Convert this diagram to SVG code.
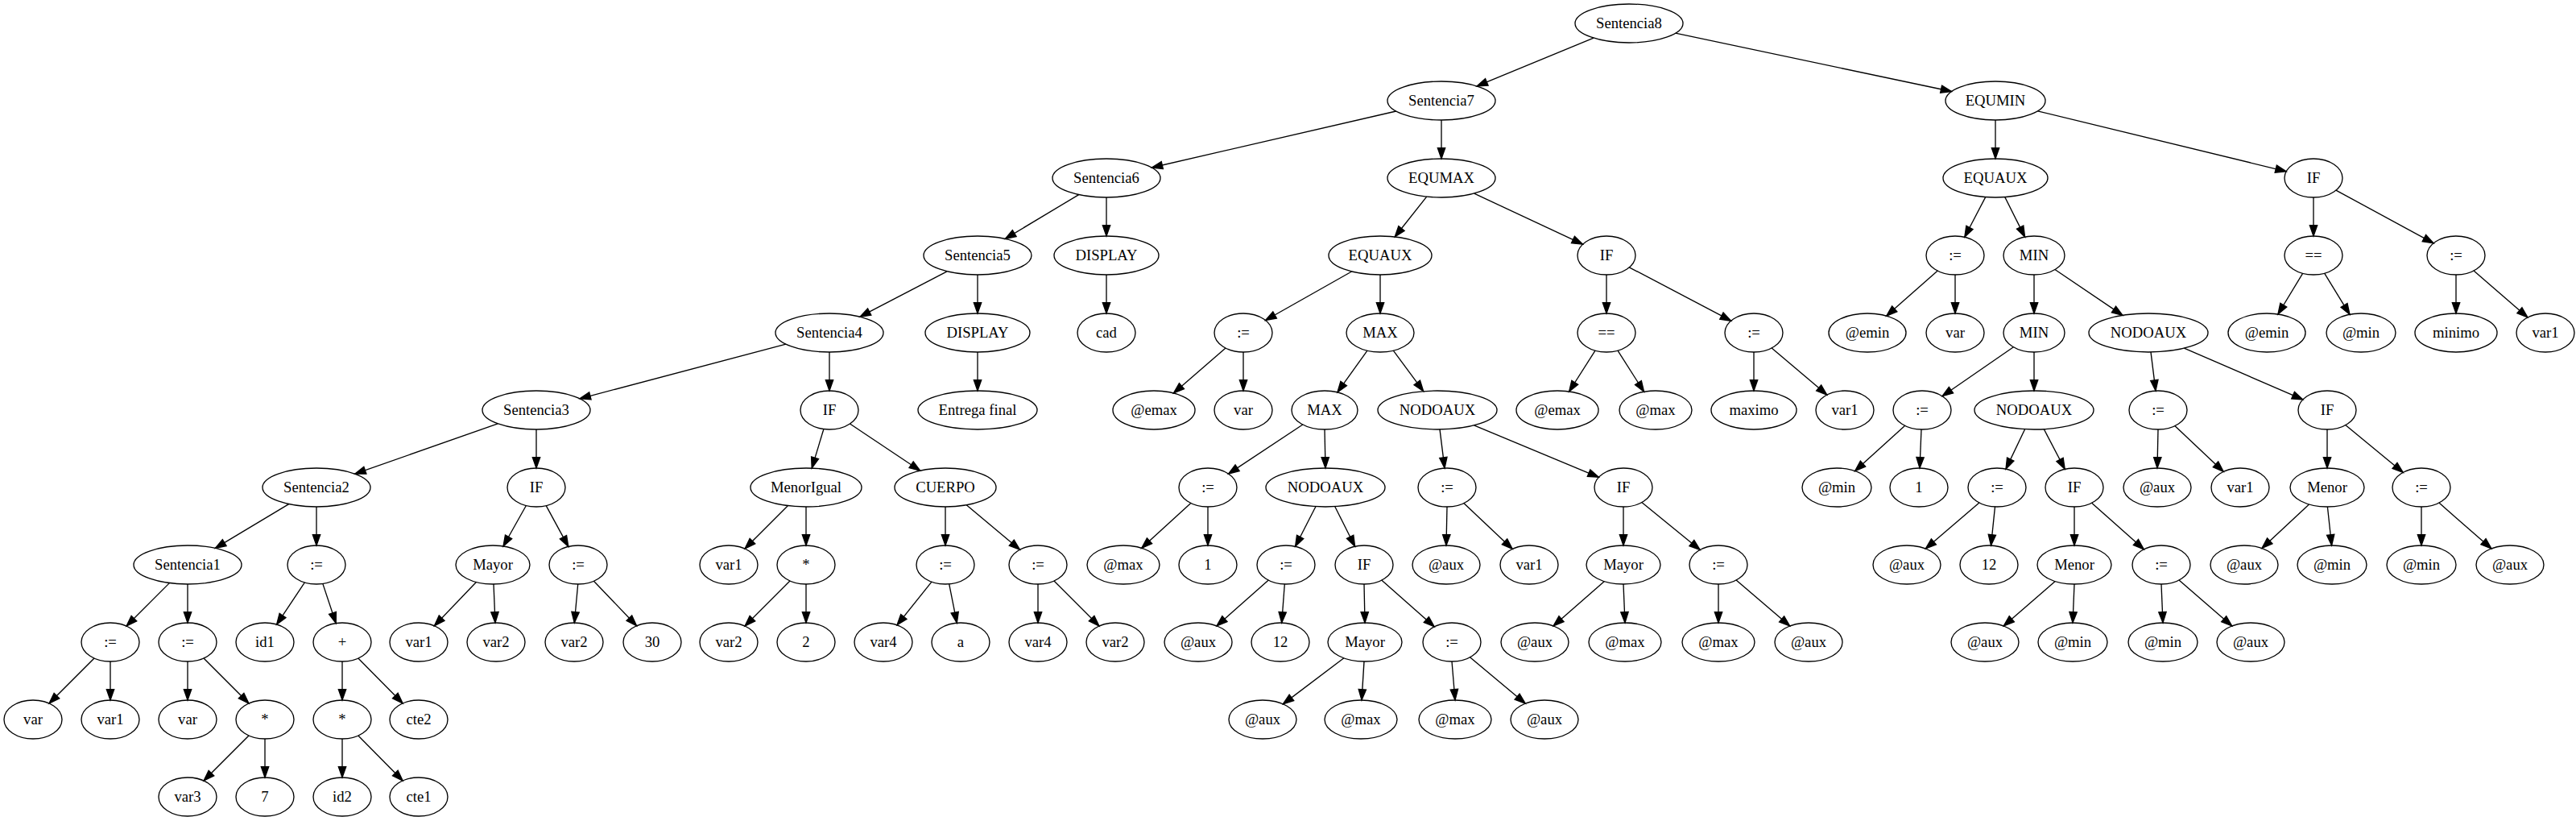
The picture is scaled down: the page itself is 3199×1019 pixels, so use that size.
<svg xmlns="http://www.w3.org/2000/svg" width="3199" height="1019" viewBox="0 0 3199 1019">
<style>
.node ellipse{fill:none;stroke:#000;stroke-width:1.33}
.node text{font-family:"Liberation Serif","Times New Roman",serif;font-size:18.67px;text-anchor:middle;fill:#000}
#edges line{stroke:#000;stroke-width:1.33;fill:none}
</style>
<defs>
<marker id="arr" markerUnits="userSpaceOnUse" viewBox="0 0 14 10" markerWidth="14" markerHeight="10" refX="13.33" refY="4.67" orient="auto" overflow="visible">
<path d="M0,0 L13.33,4.67 L0,9.33 Z" fill="#000" stroke="#000" stroke-width="1.33"/>
</marker>
</defs>
<rect width="3199" height="1019" fill="#fff"/>
<g id="edges" marker-end="url(#arr)">
<line x1="1979.0" y1="47.1" x2="1834.0" y2="106.9"/>
<line x1="2080.7" y1="41.2" x2="2423.6" y2="113.5"/>
<line x1="1733.7" y1="138.0" x2="1430.3" y2="208.0"/>
<line x1="1790" y1="149" x2="1790" y2="197"/>
<line x1="2478" y1="149" x2="2478" y2="197"/>
<line x1="2530.5" y1="137.8" x2="2839.2" y2="212.8"/>
<line x1="1339.7" y1="241.6" x2="1248.3" y2="296.4"/>
<line x1="1374" y1="245" x2="1374" y2="293"/>
<line x1="1771.7" y1="244.1" x2="1732.2" y2="294.0"/>
<line x1="1830.7" y1="240.1" x2="1965.5" y2="303.2"/>
<line x1="2465.7" y1="244.6" x2="2439.8" y2="294.3"/>
<line x1="2489.8" y1="244.6" x2="2514.6" y2="294.1"/>
<line x1="2873" y1="245" x2="2873" y2="293"/>
<line x1="2900.9" y1="236.1" x2="3022.1" y2="301.9"/>
<line x1="1176.1" y1="336.8" x2="1067.9" y2="393.2"/>
<line x1="1214" y1="341" x2="1214" y2="389"/>
<line x1="1374" y1="341" x2="1374" y2="389"/>
<line x1="1678.6" y1="337.0" x2="1571.5" y2="397.5"/>
<line x1="1714" y1="341" x2="1714" y2="389"/>
<line x1="1995" y1="341" x2="1995" y2="389"/>
<line x1="2023.3" y1="331.8" x2="2149.7" y2="398.2"/>
<line x1="2406.3" y1="336.1" x2="2342.7" y2="392.1"/>
<line x1="2428" y1="341" x2="2428" y2="389"/>
<line x1="2526" y1="341" x2="2526" y2="389"/>
<line x1="2551.9" y1="334.5" x2="2636.0" y2="391.4"/>
<line x1="2859.6" y1="339.3" x2="2828.9" y2="390.0"/>
<line x1="2886.6" y1="339.2" x2="2918.0" y2="390.3"/>
<line x1="3050" y1="341" x2="3050" y2="389"/>
<line x1="3072.0" y1="336.0" x2="3139.0" y2="394.0"/>
<line x1="976.0" y1="427.2" x2="720.0" y2="494.8"/>
<line x1="1030" y1="437" x2="1030" y2="485"/>
<line x1="1214" y1="437" x2="1214" y2="485"/>
<line x1="1522.0" y1="432.0" x2="1457.4" y2="487.9"/>
<line x1="1544" y1="437" x2="1544" y2="485"/>
<line x1="1698.0" y1="435.2" x2="1660.9" y2="486.9"/>
<line x1="1730.3" y1="435.1" x2="1767.7" y2="485.7"/>
<line x1="1981.0" y1="435.1" x2="1948.6" y2="486.0"/>
<line x1="2009.0" y1="435.1" x2="2041.6" y2="486.3"/>
<line x1="2178" y1="437" x2="2178" y2="485"/>
<line x1="2200.2" y1="431.9" x2="2268.8" y2="490.1"/>
<line x1="2500.4" y1="430.7" x2="2412.0" y2="491.7"/>
<line x1="2526" y1="437" x2="2526" y2="485"/>
<line x1="2671.0" y1="437.0" x2="2677.0" y2="485.1"/>
<line x1="2712.4" y1="432.2" x2="2859.8" y2="495.9"/>
<line x1="618.2" y1="525.8" x2="440.8" y2="588.2"/>
<line x1="666" y1="533" x2="666" y2="581"/>
<line x1="1022.9" y1="532.5" x2="1008.2" y2="581.1"/>
<line x1="1055.5" y1="526.0" x2="1142.7" y2="584.2"/>
<line x1="1617.8" y1="527.0" x2="1525.5" y2="588.1"/>
<line x1="1645" y1="533" x2="1646" y2="581"/>
<line x1="1788.0" y1="533.0" x2="1794.0" y2="581.1"/>
<line x1="1830.5" y1="527.9" x2="1985.4" y2="592.3"/>
<line x1="2365.7" y1="528.3" x2="2303.6" y2="584.6"/>
<line x1="2386" y1="533" x2="2384" y2="581"/>
<line x1="2514.6" y1="532.7" x2="2491.0" y2="582.1"/>
<line x1="2538.3" y1="532.7" x2="2564.2" y2="582.3"/>
<line x1="2680" y1="533" x2="2679" y2="581"/>
<line x1="2700.8" y1="528.6" x2="2761.2" y2="585.4"/>
<line x1="2890" y1="533" x2="2890" y2="581"/>
<line x1="2912.7" y1="527.6" x2="2984.3" y2="586.4"/>
<line x1="358.7" y1="625.6" x2="267.3" y2="680.4"/>
<line x1="393" y1="629" x2="393" y2="677"/>
<line x1="653.4" y1="627.5" x2="625.0" y2="678.0"/>
<line x1="678.2" y1="627.6" x2="705.8" y2="678.4"/>
<line x1="978.3" y1="627.7" x2="925.0" y2="681.0"/>
<line x1="1001" y1="629" x2="1001" y2="677"/>
<line x1="1174" y1="629" x2="1174" y2="677"/>
<line x1="1200.2" y1="626.8" x2="1266.5" y2="682.2"/>
<line x1="1478.8" y1="624.4" x2="1417.7" y2="680.3"/>
<line x1="1500" y1="629" x2="1500" y2="677"/>
<line x1="1633.9" y1="628.7" x2="1608.6" y2="678.3"/>
<line x1="1657.8" y1="628.7" x2="1682.6" y2="678.2"/>
<line x1="1797" y1="629" x2="1796" y2="677"/>
<line x1="1817.8" y1="624.6" x2="1878.2" y2="681.4"/>
<line x1="2016" y1="629" x2="2016" y2="677"/>
<line x1="2038.8" y1="623.6" x2="2111.2" y2="682.4"/>
<line x1="2457.9" y1="623.9" x2="2391.3" y2="681.0"/>
<line x1="2477.5" y1="628.9" x2="2472.5" y2="677.1"/>
<line x1="2576" y1="629" x2="2576" y2="677"/>
<line x1="2597.6" y1="624.2" x2="2662.4" y2="681.8"/>
<line x1="2867.5" y1="625.9" x2="2809.0" y2="680.5"/>
<line x1="2890.4" y1="629" x2="2895.6" y2="677"/>
<line x1="3007" y1="629" x2="3007" y2="677"/>
<line x1="3028.9" y1="624.1" x2="3094.0" y2="680.9"/>
<line x1="210.4" y1="723.6" x2="157.0" y2="777.0"/>
<line x1="233" y1="725" x2="233" y2="773"/>
<line x1="378.4" y1="722.9" x2="343.6" y2="775.1"/>
<line x1="400.8" y1="724.4" x2="417.2" y2="773.6"/>
<line x1="591.4" y1="722.5" x2="539.4" y2="776.8"/>
<line x1="613" y1="725" x2="615" y2="773"/>
<line x1="717.7" y1="725" x2="713.3" y2="773"/>
<line x1="737.4" y1="721.2" x2="790.6" y2="776.8"/>
<line x1="981.0" y1="721.0" x2="925.0" y2="777.0"/>
<line x1="1001" y1="725" x2="1001" y2="773"/>
<line x1="1157.0" y1="722.2" x2="1114.0" y2="775.8"/>
<line x1="1178.7" y1="724.8" x2="1188.3" y2="773.2"/>
<line x1="1289" y1="725" x2="1289" y2="773"/>
<line x1="1309.0" y1="721.0" x2="1365.0" y2="777.0"/>
<line x1="1575.3" y1="720.1" x2="1510.9" y2="776.9"/>
<line x1="1595.3" y1="725.0" x2="1591.7" y2="773.0"/>
<line x1="1694" y1="725" x2="1695" y2="773"/>
<line x1="1715.7" y1="720.1" x2="1781.3" y2="777.9"/>
<line x1="1992.4" y1="721.6" x2="1929.0" y2="776.9"/>
<line x1="2016" y1="725" x2="2018" y2="773"/>
<line x1="2134" y1="725" x2="2134" y2="773"/>
<line x1="2156.1" y1="719.9" x2="2222.7" y2="777.0"/>
<line x1="2552.2" y1="721.6" x2="2488.2" y2="777.0"/>
<line x1="2576" y1="725" x2="2574" y2="773"/>
<line x1="2684" y1="725" x2="2686" y2="773"/>
<line x1="2706.0" y1="720.0" x2="2771.8" y2="777.0"/>
<line x1="117.0" y1="817.0" x2="61.0" y2="873.0"/>
<line x1="137" y1="821" x2="137" y2="869"/>
<line x1="233" y1="821" x2="233" y2="869"/>
<line x1="253.0" y1="817.0" x2="309.0" y2="873.0"/>
<line x1="425" y1="821" x2="425" y2="869"/>
<line x1="444.8" y1="817.0" x2="500.2" y2="873.0"/>
<line x1="1668.9" y1="816.8" x2="1593.3" y2="873.9"/>
<line x1="1694" y1="821" x2="1691" y2="869"/>
<line x1="1803" y1="821" x2="1807" y2="869"/>
<line x1="1825.5" y1="815.8" x2="1894.3" y2="873.2"/>
<line x1="309.0" y1="913.0" x2="253.0" y2="969.0"/>
<line x1="329" y1="917" x2="329" y2="965"/>
<line x1="425" y1="917" x2="425" y2="965"/>
<line x1="444.8" y1="913.0" x2="500.2" y2="969.0"/>
</g>
<g id="n1" class="node"><ellipse cx="2023" cy="29" rx="67" ry="24"/><text x="2023" y="34.6">Sentencia8</text></g>
<g id="n2" class="node"><ellipse cx="1790" cy="125" rx="67" ry="24"/><text x="1790" y="130.6">Sentencia7</text></g>
<g id="n3" class="node"><ellipse cx="2478" cy="125" rx="62" ry="24"/><text x="2478" y="130.6">EQUMIN</text></g>
<g id="n4" class="node"><ellipse cx="1374" cy="221" rx="67" ry="24"/><text x="1374" y="226.6">Sentencia6</text></g>
<g id="n5" class="node"><ellipse cx="1790" cy="221" rx="67" ry="24"/><text x="1790" y="226.6">EQUMAX</text></g>
<g id="n6" class="node"><ellipse cx="2478" cy="221" rx="65" ry="24"/><text x="2478" y="226.6">EQUAUX</text></g>
<g id="n7" class="node"><ellipse cx="2873" cy="221" rx="36" ry="24"/><text x="2873" y="226.6">IF</text></g>
<g id="n8" class="node"><ellipse cx="1214" cy="317" rx="67" ry="24"/><text x="1214" y="322.6">Sentencia5</text></g>
<g id="n9" class="node"><ellipse cx="1374" cy="317" rx="65" ry="24"/><text x="1374" y="322.6">DISPLAY</text></g>
<g id="n10" class="node"><ellipse cx="1714" cy="317" rx="64" ry="24"/><text x="1714" y="322.6">EQUAUX</text></g>
<g id="n11" class="node"><ellipse cx="1995" cy="317" rx="36" ry="24"/><text x="1995" y="322.6">IF</text></g>
<g id="n12" class="node"><ellipse cx="2428" cy="317" rx="36" ry="24"/><text x="2428" y="322.6">:=</text></g>
<g id="n13" class="node"><ellipse cx="2526" cy="317" rx="38" ry="24"/><text x="2526" y="322.6">MIN</text></g>
<g id="n14" class="node"><ellipse cx="2873" cy="317" rx="36" ry="24"/><text x="2873" y="322.6">==</text></g>
<g id="n15" class="node"><ellipse cx="3050" cy="317" rx="36" ry="24"/><text x="3050" y="322.6">:=</text></g>
<g id="n16" class="node"><ellipse cx="1030" cy="413" rx="67" ry="24"/><text x="1030" y="418.6">Sentencia4</text></g>
<g id="n17" class="node"><ellipse cx="1214" cy="413" rx="65" ry="24"/><text x="1214" y="418.6">DISPLAY</text></g>
<g id="n18" class="node"><ellipse cx="1374" cy="413" rx="36" ry="24"/><text x="1374" y="418.6">cad</text></g>
<g id="n19" class="node"><ellipse cx="1544" cy="413" rx="36" ry="24"/><text x="1544" y="418.6">:=</text></g>
<g id="n20" class="node"><ellipse cx="1714" cy="413" rx="42" ry="24"/><text x="1714" y="418.6">MAX</text></g>
<g id="n21" class="node"><ellipse cx="1995" cy="413" rx="36" ry="24"/><text x="1995" y="418.6">==</text></g>
<g id="n22" class="node"><ellipse cx="2178" cy="413" rx="36" ry="24"/><text x="2178" y="418.6">:=</text></g>
<g id="n23" class="node"><ellipse cx="2319" cy="413" rx="48" ry="24"/><text x="2319" y="418.6">@emin</text></g>
<g id="n24" class="node"><ellipse cx="2428" cy="413" rx="36" ry="24"/><text x="2428" y="418.6">var</text></g>
<g id="n25" class="node"><ellipse cx="2526" cy="413" rx="38" ry="24"/><text x="2526" y="418.6">MIN</text></g>
<g id="n26" class="node"><ellipse cx="2668" cy="413" rx="74" ry="24"/><text x="2668" y="418.6">NODOAUX</text></g>
<g id="n27" class="node"><ellipse cx="2815" cy="413" rx="48" ry="24"/><text x="2815" y="418.6">@emin</text></g>
<g id="n28" class="node"><ellipse cx="2932" cy="413" rx="43" ry="24"/><text x="2932" y="418.6">@min</text></g>
<g id="n29" class="node"><ellipse cx="3050" cy="413" rx="51" ry="24"/><text x="3050" y="418.6">minimo</text></g>
<g id="n30" class="node"><ellipse cx="3161" cy="413" rx="36" ry="24"/><text x="3161" y="418.6">var1</text></g>
<g id="n31" class="node"><ellipse cx="666" cy="509" rx="67" ry="24"/><text x="666" y="514.6">Sentencia3</text></g>
<g id="n32" class="node"><ellipse cx="1030" cy="509" rx="36" ry="24"/><text x="1030" y="514.6">IF</text></g>
<g id="n33" class="node"><ellipse cx="1214" cy="509" rx="74" ry="24"/><text x="1214" y="514.6">Entrega final</text></g>
<g id="n34" class="node"><ellipse cx="1433" cy="509" rx="51" ry="24"/><text x="1433" y="514.6">@emax</text></g>
<g id="n35" class="node"><ellipse cx="1544" cy="509" rx="36" ry="24"/><text x="1544" y="514.6">var</text></g>
<g id="n36" class="node"><ellipse cx="1645" cy="509" rx="41" ry="24"/><text x="1645" y="514.6">MAX</text></g>
<g id="n37" class="node"><ellipse cx="1785" cy="509" rx="74" ry="24"/><text x="1785" y="514.6">NODOAUX</text></g>
<g id="n38" class="node"><ellipse cx="1934" cy="509" rx="51" ry="24"/><text x="1934" y="514.6">@emax</text></g>
<g id="n39" class="node"><ellipse cx="2056" cy="509" rx="45" ry="24"/><text x="2056" y="514.6">@max</text></g>
<g id="n40" class="node"><ellipse cx="2178" cy="509" rx="53" ry="24"/><text x="2178" y="514.6">maximo</text></g>
<g id="n41" class="node"><ellipse cx="2291" cy="509" rx="36" ry="24"/><text x="2291" y="514.6">var1</text></g>
<g id="n42" class="node"><ellipse cx="2387" cy="509" rx="36" ry="24"/><text x="2387" y="514.6">:=</text></g>
<g id="n43" class="node"><ellipse cx="2526" cy="509" rx="74" ry="24"/><text x="2526" y="514.6">NODOAUX</text></g>
<g id="n44" class="node"><ellipse cx="2680" cy="509" rx="36" ry="24"/><text x="2680" y="514.6">:=</text></g>
<g id="n45" class="node"><ellipse cx="2890" cy="509" rx="36" ry="24"/><text x="2890" y="514.6">IF</text></g>
<g id="n46" class="node"><ellipse cx="393" cy="605" rx="67" ry="24"/><text x="393" y="610.6">Sentencia2</text></g>
<g id="n47" class="node"><ellipse cx="666" cy="605" rx="36" ry="24"/><text x="666" y="610.6">IF</text></g>
<g id="n48" class="node"><ellipse cx="1001" cy="605" rx="69" ry="24"/><text x="1001" y="610.6">MenorIgual</text></g>
<g id="n49" class="node"><ellipse cx="1174" cy="605" rx="63" ry="24"/><text x="1174" y="610.6">CUERPO</text></g>
<g id="n50" class="node"><ellipse cx="1500" cy="605" rx="36" ry="24"/><text x="1500" y="610.6">:=</text></g>
<g id="n51" class="node"><ellipse cx="1646" cy="605" rx="74" ry="24"/><text x="1646" y="610.6">NODOAUX</text></g>
<g id="n52" class="node"><ellipse cx="1797" cy="605" rx="36" ry="24"/><text x="1797" y="610.6">:=</text></g>
<g id="n53" class="node"><ellipse cx="2016" cy="605" rx="36" ry="24"/><text x="2016" y="610.6">IF</text></g>
<g id="n54" class="node"><ellipse cx="2281" cy="605" rx="43" ry="24"/><text x="2281" y="610.6">@min</text></g>
<g id="n55" class="node"><ellipse cx="2383" cy="605" rx="36" ry="24"/><text x="2383" y="610.6">1</text></g>
<g id="n56" class="node"><ellipse cx="2480" cy="605" rx="36" ry="24"/><text x="2480" y="610.6">:=</text></g>
<g id="n57" class="node"><ellipse cx="2576" cy="605" rx="36" ry="24"/><text x="2576" y="610.6">IF</text></g>
<g id="n58" class="node"><ellipse cx="2679" cy="605" rx="42" ry="24"/><text x="2679" y="610.6">@aux</text></g>
<g id="n59" class="node"><ellipse cx="2782" cy="605" rx="36" ry="24"/><text x="2782" y="610.6">var1</text></g>
<g id="n60" class="node"><ellipse cx="2890" cy="605" rx="46" ry="24"/><text x="2890" y="610.6">Menor</text></g>
<g id="n61" class="node"><ellipse cx="3007" cy="605" rx="36" ry="24"/><text x="3007" y="610.6">:=</text></g>
<g id="n62" class="node"><ellipse cx="233" cy="701" rx="67" ry="24"/><text x="233" y="706.6">Sentencia1</text></g>
<g id="n63" class="node"><ellipse cx="393" cy="701" rx="36" ry="24"/><text x="393" y="706.6">:=</text></g>
<g id="n64" class="node"><ellipse cx="612" cy="701" rx="46" ry="24"/><text x="612" y="706.6">Mayor</text></g>
<g id="n65" class="node"><ellipse cx="718" cy="701" rx="36" ry="24"/><text x="718" y="706.6">:=</text></g>
<g id="n66" class="node"><ellipse cx="905" cy="701" rx="36" ry="24"/><text x="905" y="706.6">var1</text></g>
<g id="n67" class="node"><ellipse cx="1001" cy="701" rx="36" ry="24"/><text x="1001" y="706.6">*</text></g>
<g id="n68" class="node"><ellipse cx="1174" cy="701" rx="36" ry="24"/><text x="1174" y="706.6">:=</text></g>
<g id="n69" class="node"><ellipse cx="1289" cy="701" rx="36" ry="24"/><text x="1289" y="706.6">:=</text></g>
<g id="n70" class="node"><ellipse cx="1395" cy="701" rx="45" ry="24"/><text x="1395" y="706.6">@max</text></g>
<g id="n71" class="node"><ellipse cx="1500" cy="701" rx="36" ry="24"/><text x="1500" y="706.6">1</text></g>
<g id="n72" class="node"><ellipse cx="1597" cy="701" rx="36" ry="24"/><text x="1597" y="706.6">:=</text></g>
<g id="n73" class="node"><ellipse cx="1694" cy="701" rx="36" ry="24"/><text x="1694" y="706.6">IF</text></g>
<g id="n74" class="node"><ellipse cx="1796" cy="701" rx="42" ry="24"/><text x="1796" y="706.6">@aux</text></g>
<g id="n75" class="node"><ellipse cx="1899" cy="701" rx="36" ry="24"/><text x="1899" y="706.6">var1</text></g>
<g id="n76" class="node"><ellipse cx="2016" cy="701" rx="46" ry="24"/><text x="2016" y="706.6">Mayor</text></g>
<g id="n77" class="node"><ellipse cx="2134" cy="701" rx="36" ry="24"/><text x="2134" y="706.6">:=</text></g>
<g id="n78" class="node"><ellipse cx="2368" cy="701" rx="42" ry="24"/><text x="2368" y="706.6">@aux</text></g>
<g id="n79" class="node"><ellipse cx="2470" cy="701" rx="36" ry="24"/><text x="2470" y="706.6">12</text></g>
<g id="n80" class="node"><ellipse cx="2576" cy="701" rx="46" ry="24"/><text x="2576" y="706.6">Menor</text></g>
<g id="n81" class="node"><ellipse cx="2684" cy="701" rx="36" ry="24"/><text x="2684" y="706.6">:=</text></g>
<g id="n82" class="node"><ellipse cx="2787" cy="701" rx="42" ry="24"/><text x="2787" y="706.6">@aux</text></g>
<g id="n83" class="node"><ellipse cx="2896" cy="701" rx="43" ry="24"/><text x="2896" y="706.6">@min</text></g>
<g id="n84" class="node"><ellipse cx="3007" cy="701" rx="43" ry="24"/><text x="3007" y="706.6">@min</text></g>
<g id="n85" class="node"><ellipse cx="3117" cy="701" rx="42" ry="24"/><text x="3117" y="706.6">@aux</text></g>
<g id="n86" class="node"><ellipse cx="137" cy="797" rx="36" ry="24"/><text x="137" y="802.6">:=</text></g>
<g id="n87" class="node"><ellipse cx="233" cy="797" rx="36" ry="24"/><text x="233" y="802.6">:=</text></g>
<g id="n88" class="node"><ellipse cx="329" cy="797" rx="36" ry="24"/><text x="329" y="802.6">id1</text></g>
<g id="n89" class="node"><ellipse cx="425" cy="797" rx="36" ry="24"/><text x="425" y="802.6">+</text></g>
<g id="n90" class="node"><ellipse cx="520" cy="797" rx="36" ry="24"/><text x="520" y="802.6">var1</text></g>
<g id="n91" class="node"><ellipse cx="616" cy="797" rx="36" ry="24"/><text x="616" y="802.6">var2</text></g>
<g id="n92" class="node"><ellipse cx="713" cy="797" rx="36" ry="24"/><text x="713" y="802.6">var2</text></g>
<g id="n93" class="node"><ellipse cx="810" cy="797" rx="36" ry="24"/><text x="810" y="802.6">30</text></g>
<g id="n94" class="node"><ellipse cx="905" cy="797" rx="36" ry="24"/><text x="905" y="802.6">var2</text></g>
<g id="n95" class="node"><ellipse cx="1001" cy="797" rx="36" ry="24"/><text x="1001" y="802.6">2</text></g>
<g id="n96" class="node"><ellipse cx="1097" cy="797" rx="36" ry="24"/><text x="1097" y="802.6">var4</text></g>
<g id="n97" class="node"><ellipse cx="1193" cy="797" rx="36" ry="24"/><text x="1193" y="802.6">a</text></g>
<g id="n98" class="node"><ellipse cx="1289" cy="797" rx="36" ry="24"/><text x="1289" y="802.6">var4</text></g>
<g id="n99" class="node"><ellipse cx="1385" cy="797" rx="36" ry="24"/><text x="1385" y="802.6">var2</text></g>
<g id="n100" class="node"><ellipse cx="1488" cy="797" rx="42" ry="24"/><text x="1488" y="802.6">@aux</text></g>
<g id="n101" class="node"><ellipse cx="1590" cy="797" rx="36" ry="24"/><text x="1590" y="802.6">12</text></g>
<g id="n102" class="node"><ellipse cx="1695" cy="797" rx="46" ry="24"/><text x="1695" y="802.6">Mayor</text></g>
<g id="n103" class="node"><ellipse cx="1803" cy="797" rx="36" ry="24"/><text x="1803" y="802.6">:=</text></g>
<g id="n104" class="node"><ellipse cx="1906" cy="797" rx="42" ry="24"/><text x="1906" y="802.6">@aux</text></g>
<g id="n105" class="node"><ellipse cx="2018" cy="797" rx="45" ry="24"/><text x="2018" y="802.6">@max</text></g>
<g id="n106" class="node"><ellipse cx="2134" cy="797" rx="45" ry="24"/><text x="2134" y="802.6">@max</text></g>
<g id="n107" class="node"><ellipse cx="2246" cy="797" rx="42" ry="24"/><text x="2246" y="802.6">@aux</text></g>
<g id="n108" class="node"><ellipse cx="2465" cy="797" rx="42" ry="24"/><text x="2465" y="802.6">@aux</text></g>
<g id="n109" class="node"><ellipse cx="2574" cy="797" rx="43" ry="24"/><text x="2574" y="802.6">@min</text></g>
<g id="n110" class="node"><ellipse cx="2686" cy="797" rx="43" ry="24"/><text x="2686" y="802.6">@min</text></g>
<g id="n111" class="node"><ellipse cx="2795" cy="797" rx="42" ry="24"/><text x="2795" y="802.6">@aux</text></g>
<g id="n112" class="node"><ellipse cx="41" cy="893" rx="36" ry="24"/><text x="41" y="898.6">var</text></g>
<g id="n113" class="node"><ellipse cx="137" cy="893" rx="36" ry="24"/><text x="137" y="898.6">var1</text></g>
<g id="n114" class="node"><ellipse cx="233" cy="893" rx="36" ry="24"/><text x="233" y="898.6">var</text></g>
<g id="n115" class="node"><ellipse cx="329" cy="893" rx="36" ry="24"/><text x="329" y="898.6">*</text></g>
<g id="n116" class="node"><ellipse cx="425" cy="893" rx="36" ry="24"/><text x="425" y="898.6">*</text></g>
<g id="n117" class="node"><ellipse cx="520" cy="893" rx="36" ry="24"/><text x="520" y="898.6">cte2</text></g>
<g id="n118" class="node"><ellipse cx="1568" cy="893" rx="42" ry="24"/><text x="1568" y="898.6">@aux</text></g>
<g id="n119" class="node"><ellipse cx="1690" cy="893" rx="45" ry="24"/><text x="1690" y="898.6">@max</text></g>
<g id="n120" class="node"><ellipse cx="1807" cy="893" rx="45" ry="24"/><text x="1807" y="898.6">@max</text></g>
<g id="n121" class="node"><ellipse cx="1918" cy="893" rx="42" ry="24"/><text x="1918" y="898.6">@aux</text></g>
<g id="n122" class="node"><ellipse cx="233" cy="989" rx="36" ry="24"/><text x="233" y="994.6">var3</text></g>
<g id="n123" class="node"><ellipse cx="329" cy="989" rx="36" ry="24"/><text x="329" y="994.6">7</text></g>
<g id="n124" class="node"><ellipse cx="425" cy="989" rx="36" ry="24"/><text x="425" y="994.6">id2</text></g>
<g id="n125" class="node"><ellipse cx="520" cy="989" rx="36" ry="24"/><text x="520" y="994.6">cte1</text></g>
</svg>
